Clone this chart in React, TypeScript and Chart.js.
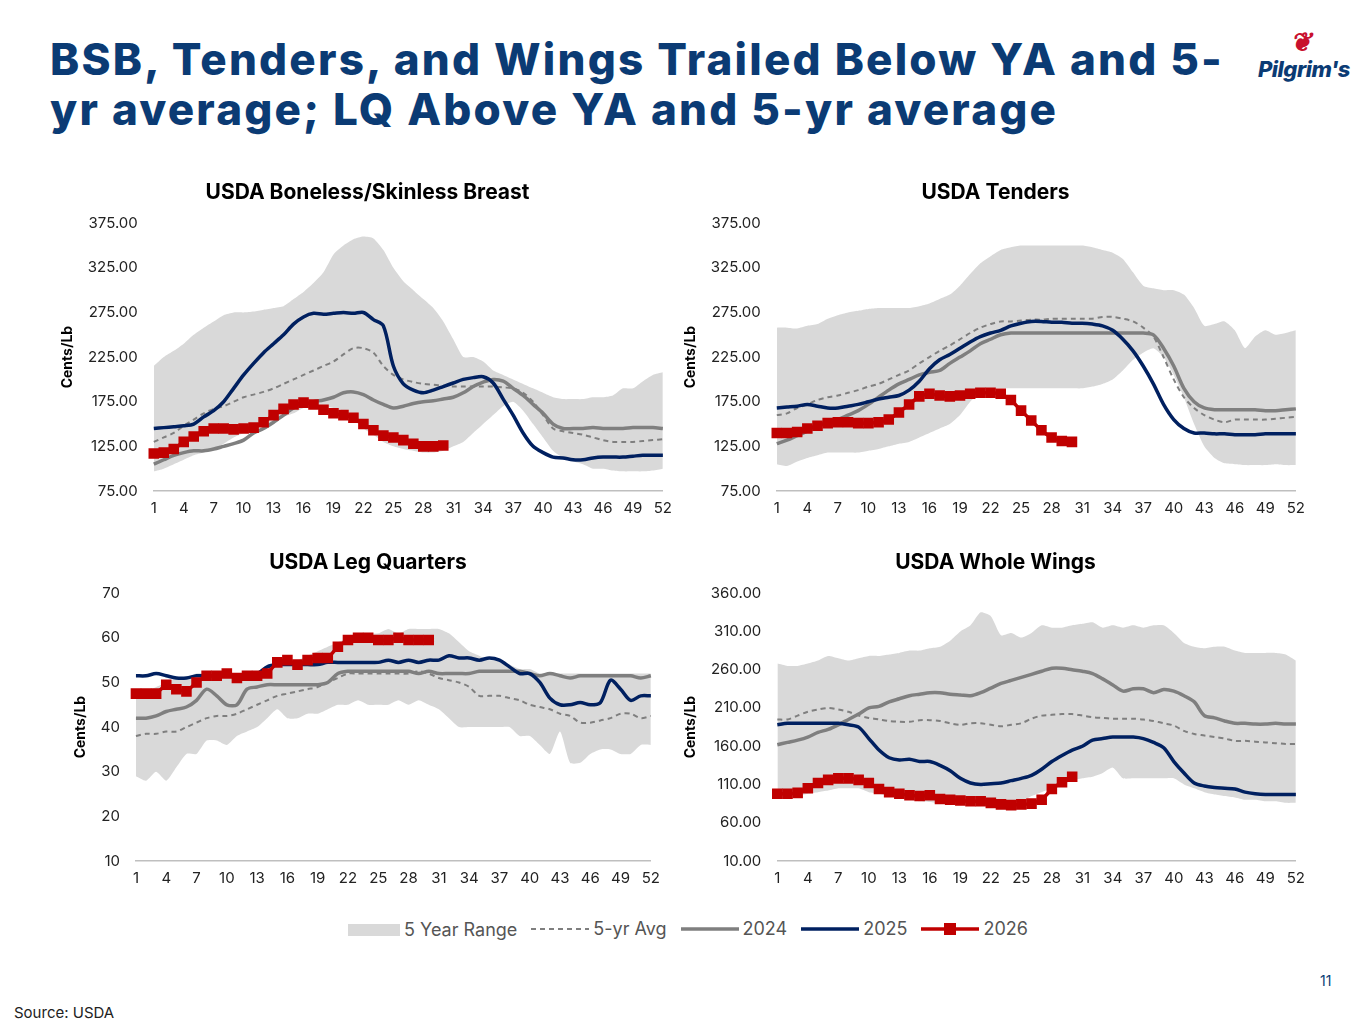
import React, { useEffect, useRef } from "react";
import { Chart, registerables } from "chart.js";
Chart.register(...registerables);

const weeks = Array.from({ length: 52 }, (_, i) => String(i + 1));

const bsbMax = [215,225,232,240,250,258,265,272,275,275,276,278,280,282,290,298,308,320,340,350,357,360,358,345,325,310,300,290,280,265,245,225,225,220,210,205,200,195,190,185,180,178,178,178,180,180,182,190,190,198,205,208];
const bsbMin = [97,100,105,110,115,118,122,128,135,140,145,150,152,158,162,168,170,170,168,165,155,145,138,130,125,122,120,118,118,120,125,130,140,150,160,170,175,165,150,135,120,112,108,105,100,100,98,97,97,97,98,100];
const bsbAvg = [130,135,140,148,155,162,167,170,175,180,183,186,190,195,200,205,210,215,220,228,235,235,230,215,205,200,197,195,194,193,192,192,192,192,192,191,190,185,175,160,145,142,140,138,135,132,130,130,130,131,132,133];
const bsb2024 = [105,110,115,118,120,120,122,125,128,132,140,145,152,160,168,172,175,177,180,185,186,183,177,172,168,170,173,175,176,178,180,185,192,197,200,198,190,182,172,162,150,145,145,145,146,145,145,145,146,146,146,145];
const bsb2025 = [145,146,147,148,150,158,165,175,190,205,218,230,240,250,262,270,274,273,274,275,274,275,267,260,215,195,188,185,188,192,196,200,202,203,196,178,160,140,125,118,113,112,110,110,112,113,113,113,114,115,115,115];
const bsb2026 = [117,118,122,130,136,142,145,145,144,145,146,152,160,167,172,174,172,166,162,160,157,150,143,137,135,132,128,125,125,126];

const tenMax = [258,258,257,260,262,268,272,275,277,279,280,280,280,280,282,285,290,295,305,318,330,338,345,348,350,350,350,350,350,350,350,348,345,342,335,320,305,302,300,300,295,280,260,262,265,255,235,248,255,250,252,255];
const tenMin = [105,103,108,112,115,118,118,118,118,120,122,125,128,130,135,140,145,150,160,175,185,190,190,190,190,190,190,190,190,190,190,192,195,200,210,222,230,235,225,205,180,150,125,112,106,105,104,104,104,105,104,104];
const tenAvg = [160,162,168,172,177,180,182,185,188,192,195,200,205,210,218,225,232,238,245,252,258,262,265,265,266,267,267,268,268,268,268,268,270,270,268,265,258,248,225,200,180,168,160,155,152,155,155,155,155,156,157,158];
const ten2024 = [128,132,137,142,148,152,155,160,165,172,180,188,195,200,205,208,210,218,225,232,240,245,250,252,252,252,252,252,252,252,252,252,252,252,252,252,252,250,235,215,190,175,168,166,166,166,166,166,165,165,166,167];
const ten2025 = [168,169,170,172,170,168,168,170,172,175,178,180,182,188,198,212,222,228,235,242,248,252,255,260,263,265,265,264,264,263,263,262,260,255,245,232,215,195,172,155,145,140,140,139,139,138,138,138,139,139,139,139];
const ten2026 = [140,140,141,145,148,151,152,152,151,151,152,155,163,172,181,184,182,181,182,184,185,185,184,177,165,154,143,135,131,130];

const lqMax = [48,48,49,50,51,51,52,52,52,52,52,52,52,53,54,55,55,56,57,58,59,60,61,61,61,62,61,62,62,62,62,61,59,57,56,55,55,54,53,53,52,52,52,52,52,52,52,52,52,52,52,52];
const lqMin = [29,28,30,28,31,34,34,37,37,36,38,39,40,42,44,42,42,43,43,44,45,45,46,45,45,45,46,45,46,45,44,42,40,40,40,40,40,40,38,38,36,34,39,32,32,34,35,35,34,34,36,36];
const lqAvg = [38,38.5,38.5,39,39,40,41,42,42.5,42.5,43,44,45,46,47,47.5,48,48.5,49,50,51,52,52,52,52,52,52,52,52.5,52,51,50.5,50,49,47,47,47,46.5,46,45,44.5,44,43,42.5,41,41,41.5,42,43,43,42,42.5];
const lq2024 = [42,42,42.5,43.5,44,44.5,46,48.5,47,45,45,48.5,49,49.5,49.5,49.5,49.5,49.5,49.5,50,52,52.5,52.5,52.5,52.5,52.5,52.5,52.5,52,52.5,52,52,52,52,52.5,52.5,52.5,52.5,52.5,52,51.5,52,51.5,51,51.5,51.5,51.5,51.5,51.5,51.5,51,51.5];
const lq2025 = [51.5,51.5,52,51.5,51,51,51.5,51.5,51.5,51.5,51.5,52,52,53.5,54,54,54,54,54,54.5,54.5,54.5,54.5,54.5,54.5,55,54.5,55,54.5,55,55,56,55.5,55.5,55,55.5,55,53.5,52,52,50,46.5,45,45,45.5,45,45.5,50.5,48.5,46,47,47];
const lq2026 = [47.5,47.5,47.5,49.5,48.5,48,50,51.5,51.5,52,51,51.5,51.5,52,54.5,55,54,55,55.5,55.5,58,59.5,60,60,59.5,59.5,60,59.5,59.5,59.5];

const wMax = [268,265,265,268,272,278,275,272,275,278,278,280,282,285,285,288,290,298,310,318,335,330,305,308,302,308,318,315,315,318,320,322,315,318,315,318,315,318,318,308,295,290,288,290,290,285,282,282,282,282,280,272];
const wMin = [95,95,95,98,100,102,105,105,105,100,98,95,93,90,88,87,85,85,85,85,84,84,85,86,88,95,100,105,110,115,118,120,125,132,118,118,118,118,118,118,110,105,100,97,95,93,90,90,88,88,86,86];
const wAvg = [195,195,200,205,208,210,208,205,200,197,195,193,192,192,194,194,193,190,188,190,190,188,186,188,190,196,200,201,202,202,200,198,197,196,196,196,195,193,190,187,180,176,174,172,170,167,167,166,165,164,163,163];
const w2024 = [162,165,168,172,178,182,188,195,202,210,212,218,222,226,228,230,230,228,227,226,230,236,242,246,250,254,258,262,262,260,258,255,248,240,232,235,235,230,234,232,226,218,200,197,193,190,190,189,189,190,189,189];
const w2025 = [188,190,190,190,190,190,190,188,185,170,155,145,142,143,140,140,135,128,118,112,110,111,112,115,118,122,130,140,148,155,160,168,170,172,172,172,170,165,158,140,125,112,108,106,105,104,100,98,97,97,97,97];
const w2026 = [98,98,99,105,112,116,118,118,116,112,104,100,98,96,95,96,91,90,89,88,88,86,84,83,84,85,90,104,113,120];

const FONT = "Inter, 'Open Sans', sans-serif";
const GREY_RANGE = "#d9d9d9";
const AVG = "#7f7f7f";
const C2024 = "#7f7f7f";
const C2025 = "#002060";
const C2026 = "#c00000";

type P = { title: string; min: number; max: number; step: number; dec: number; data: number[][] };

function Panel({ cfg, style }: { cfg: P; style: React.CSSProperties }) {
  const ref = useRef<HTMLCanvasElement>(null);
  useEffect(() => {
    const [mn, mx, av, a, b, c] = cfg.data;
    const line = (label: string, d: number[], color: string, w: number, order: number, extra: any = {}) => ({
      label, data: d, borderColor: color, backgroundColor: color, borderWidth: w, pointRadius: 0, tension: 0.3, fill: false, order, ...extra,
    });
    const ch = new Chart(ref.current!, {
      type: "line",
      data: {
        labels: weeks,
        datasets: [
          { label: "min", data: mn, borderWidth: 0, pointRadius: 0, fill: false, borderColor: "transparent", tension: 0.2, order: 10 },
          { label: "5 Year Range", data: mx, borderWidth: 0, pointRadius: 0, fill: "-1", backgroundColor: GREY_RANGE, borderColor: "transparent", tension: 0.2, order: 9 },
          line("5-yr Avg", av, AVG, 2, 4, { borderDash: [5, 4] }),
          line("2024", a, C2024, 3.5, 3),
          line("2025", b, C2025, 3.5, 2),
          line("2026", c, C2026, 3.5, 1, { pointRadius: 5, pointStyle: "rect", tension: 0.1 }),
        ] as any,
      },
      options: {
        animation: false,
        responsive: true,
        maintainAspectRatio: false,
        plugins: {
          legend: { display: false },
          tooltip: { enabled: false },
          title: { display: true, text: cfg.title, color: "#000", font: { family: FONT, size: 21, weight: "bold" }, padding: { top: 0, bottom: 18 } },
        },
        scales: {
          x: {
            grid: { display: false, drawTicks: false },
            border: { color: "#bfbfbf", width: 1.5 },
            ticks: {
              autoSkip: false, maxRotation: 0, color: "#222", font: { family: FONT, size: 15 }, padding: 8,
              callback: (_v: any, i: number) => (i % 3 === 0 ? weeks[i] : ""),
            },
          },
          y: {
            min: cfg.min, max: cfg.max,
            grid: { display: false },
            border: { display: false },
            ticks: { stepSize: cfg.step, color: "#222", font: { family: FONT, size: 15 }, callback: (v: any) => Number(v).toFixed(cfg.dec), padding: 8 },
            title: { display: true, text: "Cents/Lb", color: "#000", font: { family: FONT, size: 14, weight: "bold" } },
          },
        },
      } as any,
    });
    return () => ch.destroy();
  }, []);
  return (
    <div style={{ position: "absolute", ...style }}>
      <canvas ref={ref} />
    </div>
  );
}

const panels: P[] = [
  { title: "USDA Boneless/Skinless Breast", min: 75, max: 375, step: 50, dec: 2, data: [bsbMin, bsbMax, bsbAvg, bsb2024, bsb2025, bsb2026] },
  { title: "USDA Tenders", min: 75, max: 375, step: 50, dec: 2, data: [tenMin, tenMax, tenAvg, ten2024, ten2025, ten2026] },
  { title: "USDA Leg Quarters", min: 10, max: 70, step: 10, dec: 0, data: [lqMin, lqMax, lqAvg, lq2024, lq2025, lq2026] },
  { title: "USDA Whole Wings", min: 10, max: 360, step: 50, dec: 2, data: [wMin, wMax, wAvg, w2024, w2025, w2026] },
];

function LegendItem({ kind, label }: { kind: string; label: string }) {
  let sym: React.ReactNode;
  if (kind === "box") sym = <span style={{ display: "inline-block", width: 52, height: 12, background: GREY_RANGE }} />;
  else
    sym = (
      <svg width="58" height="14" style={{ verticalAlign: "middle" }}>
        <line x1="0" y1="7" x2="58" y2="7" stroke={kind === "avg" ? AVG : kind === "24" ? C2024 : kind === "25" ? C2025 : C2026}
          strokeWidth={kind === "avg" ? 2 : 3.5} strokeDasharray={kind === "avg" ? "5 4" : undefined} />
        {kind === "26" && <rect x="23" y="1" width="12" height="12" fill={C2026} />}
      </svg>
    );
  return (
    <span style={{ display: "inline-flex", alignItems: "center", gap: 4, marginRight: 14 }}>
      {sym}
      <span>{label}</span>
    </span>
  );
}

export default function App() {
  useEffect(() => {
    document.body.style.margin = "0";
  }, []);
  return (
    <div style={{ position: "relative", width: 1365, height: 1024, background: "#fff", fontFamily: FONT, overflow: "hidden" }}>
      <div style={{ position: "absolute", left: 50, top: 34, color: "#0b3b74", fontSize: 44, fontWeight: 800, lineHeight: "50px", letterSpacing: 2.2, whiteSpace: "nowrap" }}>
        BSB, Tenders, and Wings Trailed Below YA and 5-<br />yr average; LQ Above YA and 5-yr average
      </div>
      <div style={{ position: "absolute", left: 1258, top: 56, fontSize: 22, fontWeight: 800, color: "#0b3b74", fontStyle: "italic", letterSpacing: -0.5 }}>
        <span style={{ position: "absolute", left: 32, top: -30, color: "#c8102e", fontSize: 26 }}>❦</span>
        Pilgrim's
      </div>
      <Panel cfg={panels[0]} style={{ left: 55, top: 180, width: 625, height: 345 }} />
      <Panel cfg={panels[1]} style={{ left: 678, top: 180, width: 635, height: 345 }} />
      <Panel cfg={panels[2]} style={{ left: 68, top: 550, width: 600, height: 345 }} />
      <Panel cfg={panels[3]} style={{ left: 678, top: 550, width: 635, height: 345 }} />
      <div style={{ position: "absolute", left: 0, width: 1390, top: 918, textAlign: "center", fontSize: 18, color: "#555" }}>
        <LegendItem kind="box" label="5 Year Range" />
        <LegendItem kind="avg" label="5-yr Avg" />
        <LegendItem kind="24" label="2024" />
        <LegendItem kind="25" label="2025" />
        <LegendItem kind="26" label="2026" />
      </div>
      <div style={{ position: "absolute", left: 1320, top: 972, fontSize: 14, color: "#0b3b74" }}>11</div>
      <div style={{ position: "absolute", left: 14, top: 1003, fontSize: 15, color: "#222" }}>Source: USDA</div>
    </div>
  );
}
